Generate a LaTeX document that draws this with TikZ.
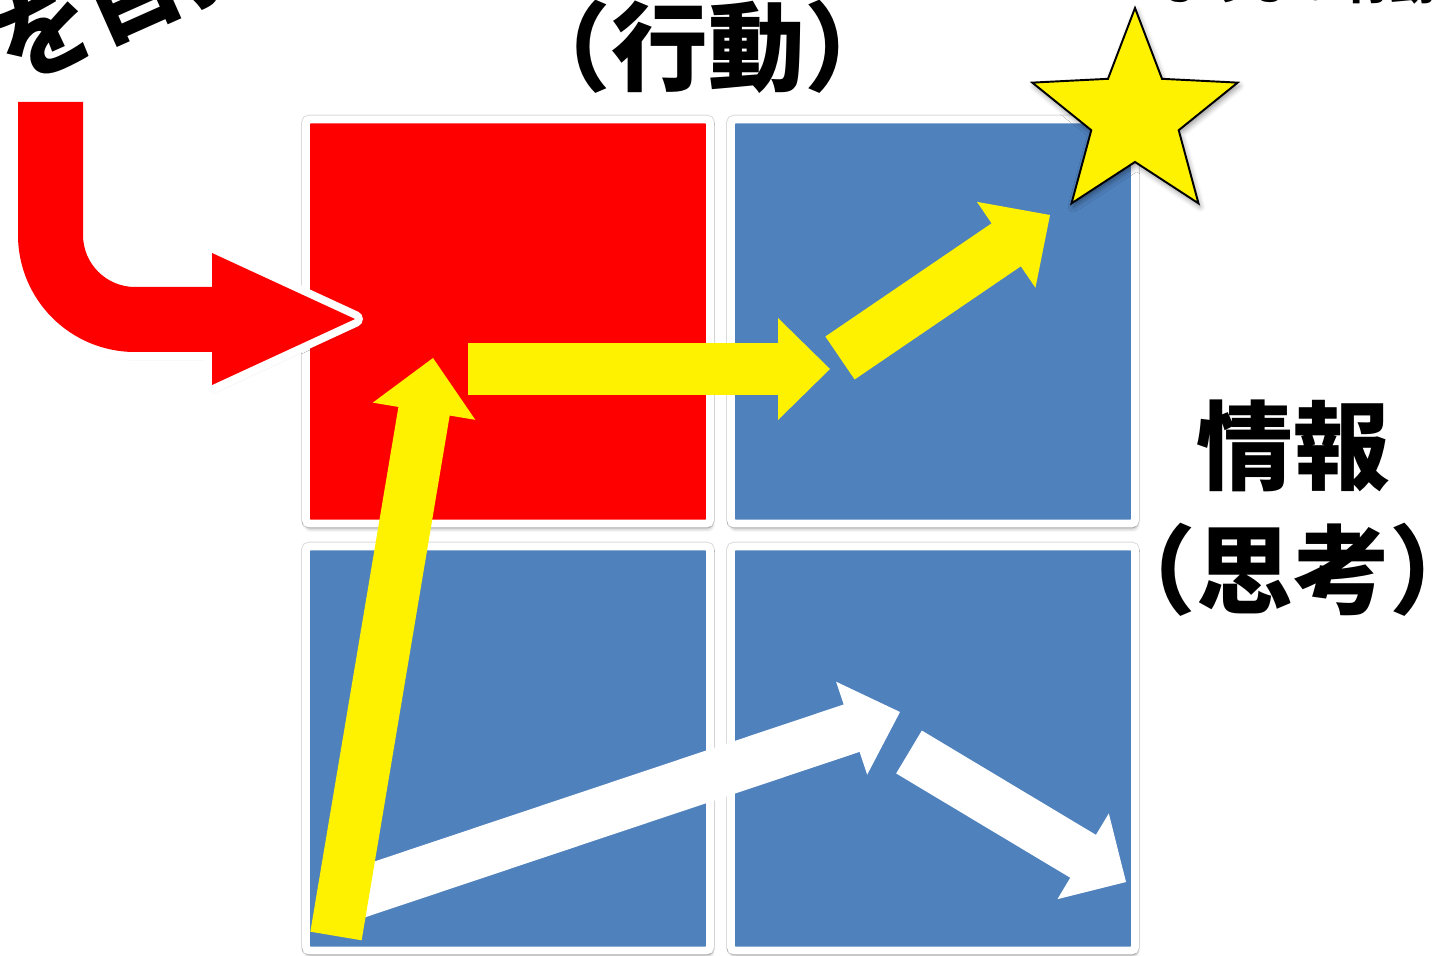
\documentclass[tikz,border=0pt]{standalone}
\usepackage{fontspec}
\newfontfamily\cjk{Noto Sans CJK JP}
\usetikzlibrary{calc,shapes.geometric,shadows.blur}

\definecolor{tileblue}{HTML}{4F81BD}

\tikzset{
  tile/.style={draw=white, line width=4.5pt, rounded corners=2pt,
    minimum width=8.08cm, minimum height=8.08cm, inner sep=0pt,
    preaction={draw=black!14, line width=5.6pt},
    blur shadow={shadow xshift=0.6pt, shadow yshift=-2.5pt, shadow blur radius=2.5pt, shadow opacity=45}},
  bigtext/.style={font=\cjk\bfseries\fontsize{55}{60}\selectfont, inner sep=0pt},
  smalltext/.style={font=\cjk\bfseries\fontsize{26}{30}\selectfont, inner sep=0pt},
}

% block arrow: style, start, tip, half shaft, half head, head length
\newcommand{\blockarrow}[6]{%
  \path ($(#3)!#6!(#2)$) coordinate (headbase);
  \fill[#1] ($(#2)!#4!90:(#3)$) -- ($(headbase)!#4!90:(#3)$)
    -- ($(headbase)!#5!90:(#3)$) -- (#3)
    -- ($(headbase)!#5!-90:(#3)$) -- ($(headbase)!#4!-90:(#3)$)
    -- ($(#2)!#4!-90:(#3)$) -- cycle;}

\begin{document}
\begin{tikzpicture}[x=0.02cm, y=-0.02cm]
\useasboundingbox (0,0) rectangle (1438,956);

% Four tiles
\node[tile, fill=red] (act) at (508,321.5) {};
\node[tile, fill=tileblue] (upright) at (933,321.5) {};
\node[tile, fill=tileblue] (lowleft) at (508,748.5) {};
\node[tile, fill=tileblue] (lowright) at (933,748.5) {};

% Arrow end points
\coordinate (w1s) at (350,896);
\coordinate (w1t) at (900,712);
\coordinate (w2s) at (909,752);
\coordinate (w2t) at (1126,882);
\coordinate (y1s) at (336,936);
\coordinate (y1t) at (433,358);
\coordinate (y2s) at (468,369);
\coordinate (y2t) at (830,369);
\coordinate (y3s) at (840,358);
\coordinate (y3t) at (1050,215);

% White arrows
\blockarrow{white}{w1s}{w1t}{0.5cm}{0.98cm}{1.02cm}
\blockarrow{white}{w2s}{w2t}{0.5cm}{1.0cm}{1.0cm}

% Yellow arrows
\blockarrow{yellow}{y1s}{y1t}{0.52cm}{1.04cm}{1.08cm}
\blockarrow{yellow}{y2s}{y2t}{0.52cm}{1.02cm}{1.04cm}
\blockarrow{yellow}{y3s}{y3t}{0.52cm}{1.04cm}{1.06cm}

% Red turning arrow
\path[fill=red, preaction={draw=white, line width=9pt, line join=round,
    blur shadow={shadow xshift=1pt, shadow yshift=-2pt, shadow blur radius=3pt, shadow opacity=35}}]
  (18,102) -- (18,235) arc[start angle=180, end angle=90, radius=117]
  -- (212,352) -- (212,385) -- (355,319) -- (212,253) -- (212,287)
  -- (135,287) arc[start angle=90, end angle=180, radius=52]
  -- (83,102) -- cycle;

% Goal star
\node[star, star points=5, star point ratio=2.35, minimum size=4.32cm, inner sep=0pt,
  draw=black, line width=1.1pt, fill=yellow,
  blur shadow={shadow xshift=1pt, shadow yshift=-2pt, shadow blur radius=3pt, shadow opacity=40}]
  (goal) at (1135,116) {};

% Texts
\node[bigtext] (acttext) at (708,47) {（行動）};
\node[bigtext] (infotext) at (1293,446) {情報};
\node[bigtext] (thinktext) at (1293,570) {（思考）};
\node[bigtext, rotate=24] (aimtext) at (132,-8) {を目指};
\node[smalltext] (bettertext) at (1300,-18) {よりよい行動};

\end{tikzpicture}
\end{document}
